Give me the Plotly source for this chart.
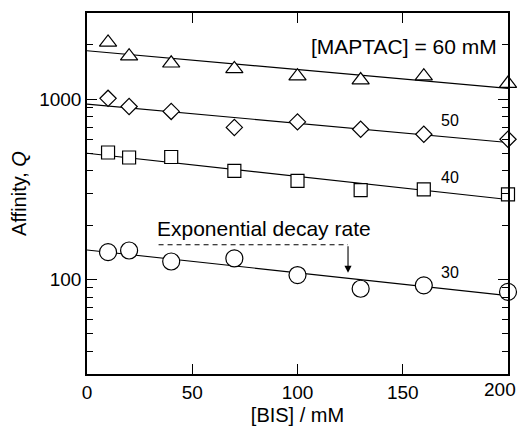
import math
import plotly.graph_objects as go

# ---- data ----
bis = [10, 20, 40, 70, 100, 130, 160, 200]
q60 = [2060, 1730, 1580, 1470, 1340, 1275, 1340, 1220]
q50 = [1010, 910, 855, 697, 748, 681, 639, 599]
q40 = [506, 475, 478, 400, 352, 313, 316, 297]
q30 = [142, 145, 126, 131, 106, 89, 93, 85.5]

fit_x = [0, 200]
fit60 = [1854, 1147]
fit50 = [938, 575]
fit40 = [501, 278]
fit30 = [146, 81.5]

series_labels = ["[MAPTAC] = 60 mM", "50", "40", "30"]
x_ticks = [0, 50, 100, 150, 200]
x_ticktext = ["0", "50", "100", "150", ""]
last_tick_label = "200"

FONT = "Liberation Sans, Arial, Helvetica, sans-serif"

fig = go.Figure()

# fit lines
for fy in [fit60, fit50, fit40, fit30]:
    fig.add_trace(go.Scatter(x=fit_x, y=fy, mode="lines",
                             line=dict(color="black", width=1.1),
                             showlegend=False, hoverinfo="skip", cliponaxis=False))

# dashed indicator line for annotation
dash_x = [34, 124]
dash_y = [156, 156]
fig.add_trace(go.Scatter(x=dash_x, y=dash_y, mode="lines",
                         line=dict(color="black", width=1.1, dash="5px,4px"),
                         showlegend=False, hoverinfo="skip"))

marker_specs = [
    (q60, "triangle-up", 15),
    (q50, "diamond", 12.5),
    (q40, "square", 13),
    (q30, "circle", 17),
]
for ys, sym, sz in marker_specs:
    fig.add_trace(go.Scatter(x=bis, y=ys, mode="markers", cliponaxis=False,
                             marker=dict(symbol=sym, size=sz, color="white",
                                         line=dict(color="black", width=1.2)),
                             showlegend=False))

# arrow (annotation coords on log axis are log10 values)
fig.add_annotation(x=124, y=math.log10(109), ax=124, ay=math.log10(156),
                   axref="x", ayref="y", xref="x", yref="y",
                   showarrow=True, arrowhead=2, arrowsize=1.3, arrowwidth=1.1,
                   arrowcolor="black", text="")

fig.add_annotation(x=195.5, y=math.log10(1950), xref="x", yref="y",
                   text=series_labels[0], showarrow=False, xanchor="right",
                   yanchor="middle", font=dict(family=FONT, size=21, color="black"))
fig.add_annotation(x=172.5, y=math.log10(765), xref="x", yref="y",
                   text=series_labels[1], showarrow=False,
                   font=dict(family=FONT, size=16, color="black"))
fig.add_annotation(x=172.5, y=math.log10(369), xref="x", yref="y",
                   text=series_labels[2], showarrow=False,
                   font=dict(family=FONT, size=16, color="black"))
fig.add_annotation(x=172.5, y=math.log10(109), xref="x", yref="y",
                   text=series_labels[3], showarrow=False,
                   font=dict(family=FONT, size=16, color="black"))
fig.add_annotation(x=84, y=math.log10(192), xref="x", yref="y",
                   text="Exponential decay rate", showarrow=False,
                   font=dict(family=FONT, size=21, color="black"))

# last x tick label drawn as annotation so it stays inside the page
fig.add_annotation(x=x_ticks[-1], y=0, xref="x", yref="paper",
                   text=last_tick_label, showarrow=False, xanchor="right",
                   yanchor="middle", xshift=10, yshift=-15,
                   font=dict(family=FONT, size=19, color="black"))

# page body has an 8px margin, so the figure is sized/offset to compensate
fig.update_layout(
    width=519, height=418,
    margin=dict(l=79, r=19, t=5, b=52),
    paper_bgcolor="white", plot_bgcolor="white",
    font=dict(family=FONT, size=19, color="black"),
    showlegend=False,
)
fig.update_xaxes(range=[0, 200], tickvals=x_ticks, ticktext=x_ticktext,
                 ticks="inside", ticklen=10,
                 tickwidth=1.2, tickcolor="black", showline=True, linecolor="black",
                 linewidth=1.5, mirror="ticks", showgrid=False, zeroline=False,
                 automargin=False, ticklabeloverflow="allow",
                 title=dict(text="[BIS] / mM", font=dict(size=20), standoff=22),
                 tickfont=dict(size=19))
fig.update_yaxes(type="log", range=[math.log10(30), math.log10(3000)],
                 tickvals=[100, 1000], ticktext=["100", "1000"],
                 ticks="inside", ticklen=10, tickwidth=1.2, tickcolor="black",
                 showline=True, linecolor="black", linewidth=1.5, mirror="ticks",
                 showgrid=False, zeroline=False, automargin=False,
                 minor=dict(ticks="inside", ticklen=6, tickwidth=1.2, tickcolor="black",
                            dtick="D1", showgrid=False),
                 title=dict(text="Affinity, <i>Q</i>", font=dict(size=20), standoff=14),
                 tickfont=dict(size=19))

fig.write_html("out.html")
